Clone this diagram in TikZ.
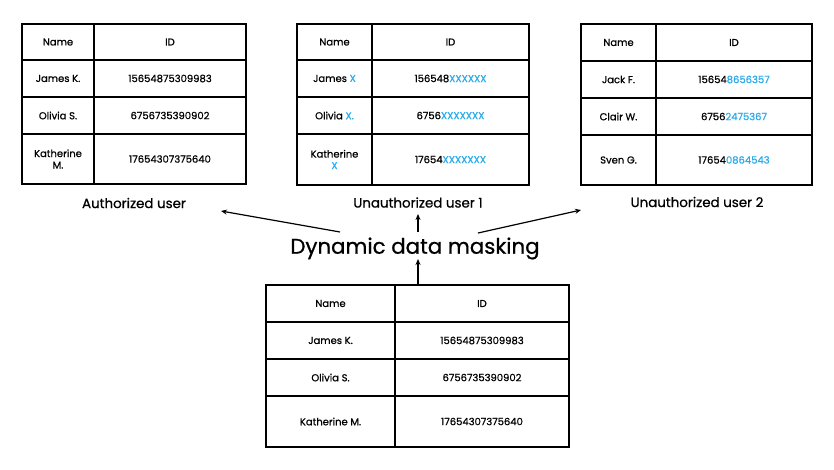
\documentclass[tikz,border=0pt]{standalone}
\usepackage{fontspec}
\setmainfont{Poppins}[FakeBold=0.7]
\usetikzlibrary{arrows.meta}
\definecolor{maskblue}{RGB}{41,171,236}
\tikzset{
  grid/.style={line width=1.6pt, draw=black},
  cell/.style={font=\fontsize{10}{11.5}\selectfont, align=center, inner sep=0pt},
  lbl/.style={font=\fontsize{13.4}{15}\selectfont, inner sep=0pt},
  title/.style={font=\fontsize{21.3}{25}\selectfont, inner sep=0pt},
  arr/.style={line width=1.2pt, -{Stealth[length=6pt,width=5pt]}},
}
\newcommand{\bl}[1]{\textcolor{maskblue}{#1}}
\begin{document}
\begin{tikzpicture}[x=1pt,y=-1pt]
\useasboundingbox[fill=white] (0,0) rectangle (834,469);
% Table 1
\draw[grid] (22,24) rectangle (246,184);
\draw[grid] (94,24) -- (94,184);
\draw[grid] (22,60) -- (246,60) (22,97) -- (246,97) (22,134) -- (246,134);
\node[cell] (a11) at (58,42) {Name};
\node[cell] (a12) at (170,42) {ID};
\node[cell] (a21) at (58,78.5) {James K.};
\node[cell] (a22) at (170,78.5) {15654875309983};
\node[cell] (a31) at (58,115.5) {Olivia S.};
\node[cell] (a32) at (170,115.5) {6756735390902};
\node[cell] (a41) at (58,159) {Katherine\\M.};
\node[cell] (a42) at (170,159) {17654307375640};
% Table 2
\draw[grid] (297,24) rectangle (529,185);
\draw[grid] (372,24) -- (372,185);
\draw[grid] (297,60) -- (529,60) (297,97) -- (529,97) (297,134) -- (529,134);
\node[cell] (b11) at (334.5,42) {Name};
\node[cell] (b12) at (450.5,42) {ID};
\node[cell] (b21) at (334.5,78.5) {James \bl{X}};
\node[cell] (b22) at (450.5,78.5) {156548\bl{XXXXXX}};
\node[cell] (b31) at (334.5,115.5) {Olivia \bl{X.}};
\node[cell] (b32) at (450.5,115.5) {6756\bl{XXXXXXX}};
\node[cell] (b41) at (334.5,159.5) {Katherine\\\bl{X}};
\node[cell] (b42) at (450.5,159.5) {17654\bl{XXXXXXX}};
% Table 3
\draw[grid] (581,24) rectangle (812,185);
\draw[grid] (656,24) -- (656,185);
\draw[grid] (581,61) -- (812,61) (581,98) -- (812,98) (581,135) -- (812,135);
\node[cell] (c11) at (618.5,42.5) {Name};
\node[cell] (c12) at (734,42.5) {ID};
\node[cell] (c21) at (618.5,79.5) {Jack F.};
\node[cell] (c22) at (734,79.5) {15654\bl{8656357}};
\node[cell] (c31) at (618.5,116.5) {Clair W.};
\node[cell] (c32) at (734,116.5) {6756\bl{2475367}};
\node[cell] (c41) at (618.5,160) {Sven G.};
\node[cell] (c42) at (734,160) {17654\bl{0864543}};
% Bottom table
\draw[grid] (266,285) rectangle (569,447);
\draw[grid] (395,285) -- (395,447);
\draw[grid] (266,322) -- (569,322) (266,359) -- (569,359) (266,396) -- (569,396);
\node[cell] (d11) at (330.5,303.5) {Name};
\node[cell] (d12) at (482,303.5) {ID};
\node[cell] (d21) at (330.5,340.5) {James K.};
\node[cell] (d22) at (482,340.5) {15654875309983};
\node[cell] (d31) at (330.5,377.5) {Olivia S.};
\node[cell] (d32) at (482,377.5) {6756735390902};
\node[cell] (d41) at (330.5,421.5) {Katherine M.};
\node[cell] (d42) at (482,421.5) {17654307375640};
% Labels
\node[lbl] (la) at (134,203) {Authorized user};
\node[lbl] (lb) at (418,202.5) {Unauthorized user 1};
\node[lbl] (lc) at (697,202) {Unauthorized user 2};
\node[title] (t) at (415,248.5) {Dynamic data masking};
% Arrows
\coordinate (s1) at (340,232);
\coordinate (e1) at (221,211);
\coordinate (s2) at (418,232);
\coordinate (e2) at (418,214);
\coordinate (s3) at (478,233);
\coordinate (e3) at (581,210);
\coordinate (s4) at (418,285);
\coordinate (e4) at (418,259);
\draw[arr] (s1) -- (e1);
\draw[arr] (s2) -- (e2);
\draw[arr] (s3) -- (e3);
\draw[arr] (s4) -- (e4);
\end{tikzpicture}
\end{document}
